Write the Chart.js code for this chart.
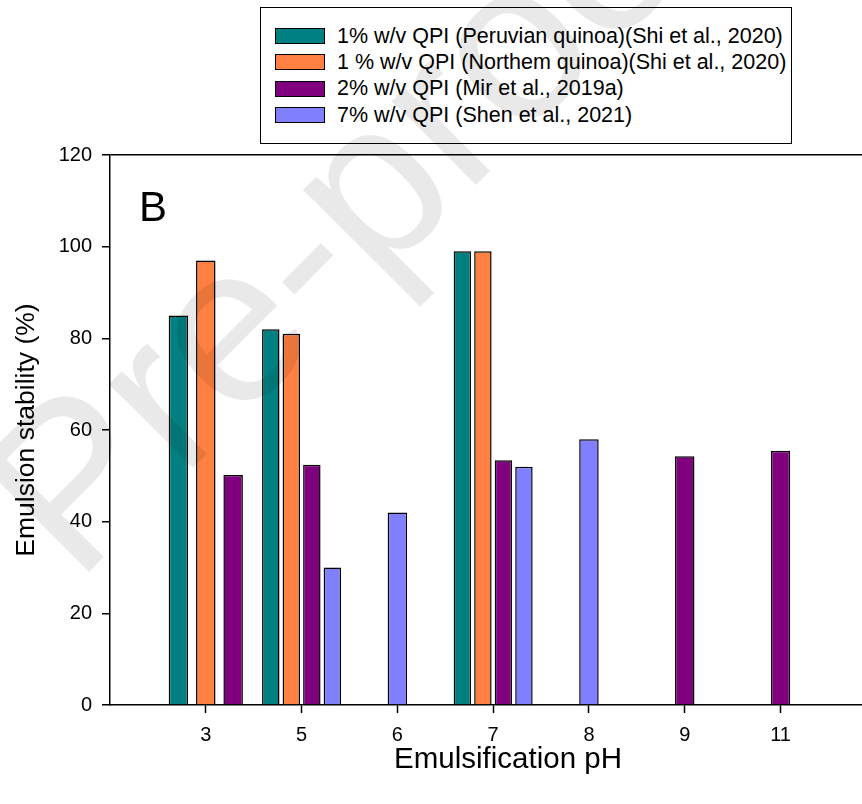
<!DOCTYPE html>
<html>
<head>
<meta charset="utf-8">
<script src="https://cdn.jsdelivr.net/npm/chart.js@4.4.1/dist/chart.umd.min.js"></script>
<style>
html,body{margin:0;padding:0;background:#fff;overflow:hidden;}
#wrap{position:relative;width:862px;height:804px;overflow:hidden;}
#chart{position:absolute;left:0;top:0;}
#legend{position:absolute;left:260px;top:7px;width:532px;height:137px;border:1.5px solid #000;box-sizing:border-box;background:#fff;font-family:'Liberation Sans',Arial,sans-serif;font-size:21.5px;color:#000;}
.item{position:absolute;left:14px;height:16px;display:flex;align-items:center;white-space:nowrap;}
.sw{width:50px;height:16px;border:1.5px solid #000;box-sizing:border-box;margin-right:12px;flex:none;}
#panelB{position:absolute;left:139px;top:186px;font-family:'Liberation Sans',Arial,sans-serif;font-size:42px;line-height:42px;color:#000;}
#wm{position:absolute;left:0;top:0;pointer-events:none;}
</style>
</head>
<body>
<div id="wrap">
  <canvas id="chart" width="906" height="804"></canvas>
  <div id="legend"></div>
  <div id="panelB">B</div>
  <svg id="wm" width="862" height="804"><text transform="translate(76,585) rotate(-45)" font-family="Liberation Sans, Arial, sans-serif" font-size="225" fill="rgba(0,0,0,0.085)">Pre-proof</text></svg>
</div>
<script>
// ---- data ----
const categories = ['3', '5', '6', '7', '8', '9', '11'];
const peruvianQPI = [85, 82, null, 99, null, null, null];
const northernQPI = [97, 81, null, 99, null, null, null];
const mirQPI      = [50.2, 52.4, null, 53.4, null, 54.3, 55.5];
const shenQPI     = [null, 30, 42, 52, 58, null, null];
const seriesLabels = [
  '1% w/v QPI (Peruvian quinoa)(Shi et al., 2020)',
  '1 % w/v QPI (Northem quinoa)(Shi et al., 2020)',
  '2% w/v QPI (Mir et al., 2019a)',
  '7% w/v QPI (Shen et al., 2021)'
];
const seriesColors = ['#008080', '#FF8040', '#800080', '#8080FF'];
const yTickValues = [0, 20, 40, 60, 80, 100, 120];

const seriesValues = [peruvianQPI, northernQPI, mirQPI, shenQPI];
const datasets = seriesValues.map((vals, k) => ({
  label: seriesLabels[k],
  data: vals.map((v, i) => ({ x: i, y: v })),
  backgroundColor: seriesColors[k],
  borderColor: '#000',
  borderWidth: 1.5,
  borderSkipped: 'start'
}));

// HTML legend
const legend = document.getElementById('legend');
seriesLabels.forEach((lab, k) => {
  const it = document.createElement('div');
  it.className = 'item';
  it.style.top = (20 + k * 26.4) + 'px';
  const sw = document.createElement('div');
  sw.className = 'sw';
  sw.style.background = seriesColors[k];
  const tx = document.createElement('span');
  tx.textContent = lab;
  it.appendChild(sw); it.appendChild(tx);
  legend.appendChild(it);
});

const FONT = "'Liberation Sans', Arial, sans-serif";

new Chart(document.getElementById('chart'), {
  type: 'bar',
  data: { datasets },
  options: {
    responsive: false,
    animation: false,
    layout: { padding: { top: 155, right: 0, bottom: 0, left: 0 } },
    plugins: { legend: { display: false }, tooltip: { enabled: false } },
    datasets: {
      bar: {
        skipNull: true,
        categoryPercentage: 0.857,
        barPercentage: 0.85,
        maxBarThickness: 19.5
      }
    },
    scales: {
      x: {
        type: 'linear',
        min: -1,
        max: 7.31,
        offset: false,
        afterBuildTicks: s => { s.ticks = categories.map((c, i) => ({ value: i })); },
        ticks: {
          callback: v => categories[v],
          font: { family: FONT, size: 20 },
          color: '#000',
          padding: 10,
          autoSkip: false,
          maxRotation: 0
        },
        grid: { offset: false, drawOnChartArea: false, drawTicks: true, tickLength: 8, tickColor: '#000', tickWidth: 1.5 },
        border: { display: true, color: '#000', width: 1.5 },
        title: { display: true, text: 'Emulsification pH', color: '#000', font: { family: FONT, size: 29.5 }, padding: { top: 0, bottom: 26 } },
        afterFit: s => { s.height = 99; }
      },
      y: {
        min: 0,
        max: 120,
        afterBuildTicks: s => { s.ticks = yTickValues.map(v => ({ value: v })); },
        ticks: { font: { family: FONT, size: 20 }, color: '#000', padding: 10 },
        grid: {
          drawOnChartArea: true,
          color: c => (c.tick && c.tick.value === 120) ? '#000' : 'rgba(0,0,0,0)',
          lineWidth: 1.5,
          tickColor: '#000',
          tickLength: 8,
          tickWidth: 1.5
        },
        border: { display: true, color: '#000', width: 1.5 },
        title: { display: true, text: 'Emulsion stability (%)', color: '#000', font: { family: FONT, size: 26.5 }, padding: { top: 11, bottom: 0 } },
        afterFit: s => { s.width = 110; }
      }
    }
  }
});
</script>
</body>
</html>
